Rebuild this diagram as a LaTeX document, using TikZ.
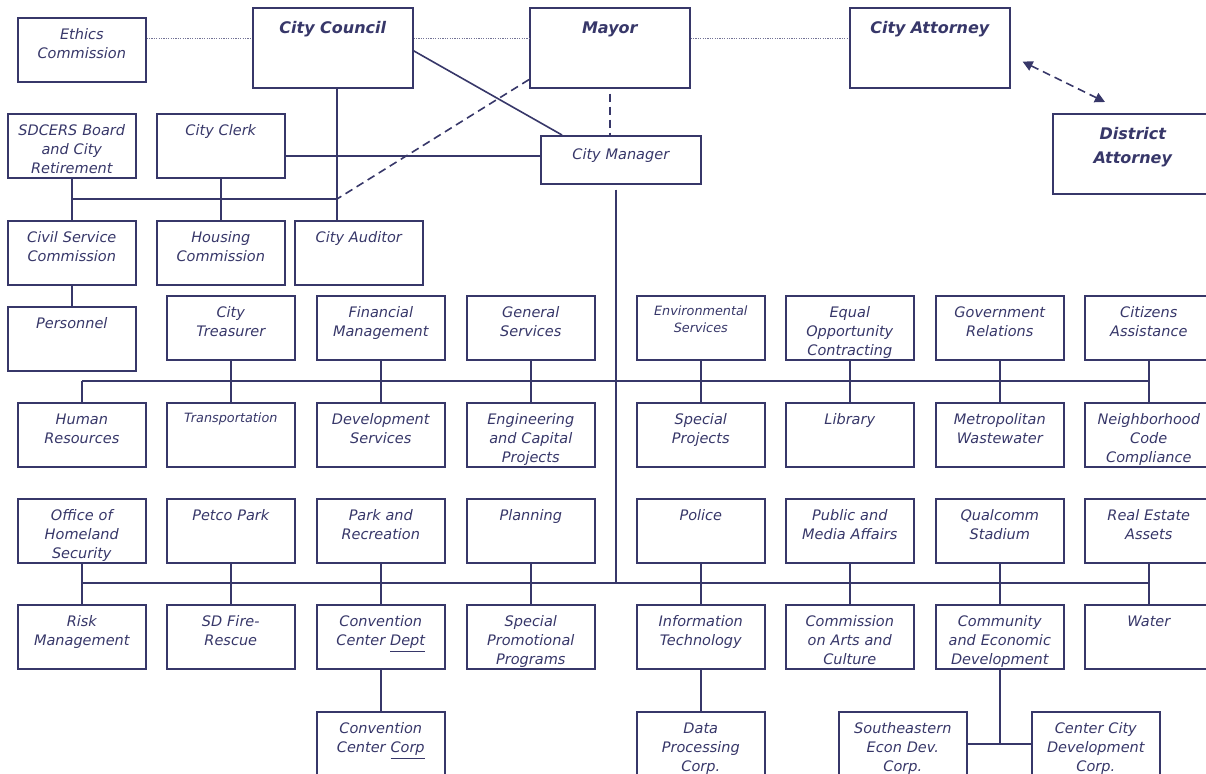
\documentclass[tikz,border=0pt]{standalone}
\usepackage{fontspec}
\setmainfont{DejaVu Sans}
\usetikzlibrary{arrows.meta}
\definecolor{ink}{RGB}{55,55,105}
\tikzset{
  unit/.style={draw=ink, line width=0.8pt, anchor=north west, inner sep=0pt,
    minimum width=64pt, text width=64pt, text height=11pt, text depth=21pt, align=center,
    text=ink, font=\fontsize{7.25}{9.5}\selectfont\itshape},
  fine/.style={font=\fontsize{6.4}{8.5}\selectfont\itshape, text height=10pt, text depth=22pt},
  head/.style={unit, minimum width=80pt, text width=80pt, text height=13pt, text depth=27pt,
    font=\fontsize{8}{12}\selectfont\bfseries\itshape},
  link/.style={draw=ink, line width=0.8pt},
  tie/.style={draw=ink!70, line width=0.5pt, dash pattern=on 0.6pt off 0.6pt},
  hint/.style={draw=ink, line width=0.8pt, dash pattern=on 4pt off 2.5pt},
}
\begin{document}
\begin{tikzpicture}[>={Triangle[length=5pt,width=5pt]},x=0.5pt,y=-0.5pt]
	\useasboundingbox (0,0) rectangle (1206,774);
	\clip (0,0) rectangle (1206,774);
	% elected offices
	\node[head] (council) at (252,7) {City Council};
	\node[head] (mayor) at (529,7) {Mayor};
	\node[head] (attorney) at (849,7) {City Attorney};
	\node[head] (district) at (1052,113) {District\\Attorney};
	\node[unit] (ethics) at (17,17) {Ethics\\Commission};
	\node[unit] (sdcers) at (7,113) {SDCERS Board\\and City\\Retirement};
	\node[unit] (clerk) at (156,113) {City Clerk};
	\node[unit, minimum width=80pt, text width=80pt, text height=12pt, text depth=12pt] (manager) at (540,135) {City Manager};
	\node[unit] (civil) at (7,220) {Civil Service\\Commission};
	\node[unit] (housing) at (156,220) {Housing\\Commission};
	\node[unit] (auditor) at (294,220) {City Auditor};
	\node[unit] (personnel) at (7,306) {Personnel};
	% first block of departments
	\node[unit] (treasurer) at (166,295) {City\\Treasurer};
	\node[unit] (finance) at (316,295) {Financial\\Management};
	\node[unit] (general) at (466,295) {General\\Services};
	\node[unit,fine] (environ) at (636,295) {Environmental\\Services};
	\node[unit] (equal) at (785,295) {Equal\\Opportunity\\Contracting};
	\node[unit] (govrel) at (935,295) {Government\\Relations};
	\node[unit] (citizens) at (1084,295) {Citizens\\Assistance};
	\node[unit] (hr) at (17,402) {Human\\Resources};
	\node[unit,fine] (transport) at (166,402) {Transportation};
	\node[unit] (devserv) at (316,402) {Development\\Services};
	\node[unit] (engineering) at (466,402) {Engineering\\and Capital\\Projects};
	\node[unit] (special) at (636,402) {Special\\Projects};
	\node[unit] (library) at (785,402) {Library};
	\node[unit] (wastewater) at (935,402) {Metropolitan\\Wastewater};
	\node[unit] (neighborhood) at (1084,402) {Neighborhood\\Code\\Compliance};
	% second block of departments
	\node[unit] (homeland) at (17,498) {Office of\\Homeland\\Security};
	\node[unit] (petco) at (166,498) {Petco Park};
	\node[unit] (parks) at (316,498) {Park and\\Recreation};
	\node[unit] (planning) at (466,498) {Planning};
	\node[unit] (police) at (636,498) {Police};
	\node[unit] (media) at (785,498) {Public and\\Media Affairs};
	\node[unit] (qualcomm) at (935,498) {Qualcomm\\Stadium};
	\node[unit] (realestate) at (1084,498) {Real Estate\\Assets};
	\node[unit] (risk) at (17,604) {Risk\\Management};
	\node[unit] (fire) at (166,604) {SD Fire-\\Rescue};
	\node[unit] (ccdept) at (316,604) {Convention\\Center \underline{Dept}};
	\node[unit] (promo) at (466,604) {Special\\Promotional\\Programs};
	\node[unit] (it) at (636,604) {Information\\Technology};
	\node[unit] (arts) at (785,604) {Commission\\on Arts and\\Culture};
	\node[unit] (ced) at (935,604) {Community\\and Economic\\Development};
	\node[unit] (water) at (1084,604) {Water};
	\node[unit] (cccorp) at (316,711) {Convention\\Center \underline{Corp}};
	\node[unit] (dataproc) at (636,711) {Data\\Processing\\Corp.};
	\node[unit] (secorp) at (838,711) {Southeastern\\Econ Dev.\\Corp.};
	\node[unit] (cccity) at (1031,711) {Center City\\Development\\Corp.};
	% helper levels
	\coordinate (tieline) at (0,39);
	\coordinate (spine) at (337,0);
	\coordinate (clerkline) at (0,156);
	\coordinate (clerkbus) at (0,199);
	\coordinate (busA) at (0,381);
	\coordinate (busB) at (0,583);
	% top connectors
	\draw[tie] (ethics.east |- tieline) -- (council.west |- tieline);
	\draw[tie] (council.east |- tieline) -- (mayor.west |- tieline);
	\draw[tie] (mayor.east |- tieline) -- (attorney.west |- tieline);
	\draw[link] ([yshift=-1.5pt]council.east) -- ([xshift=11pt]manager.north west);
	\draw[hint] ([yshift=-2.5pt]mayor.south) -- (mayor.south |- manager.north);
	\draw[hint] ([yshift=4.5pt]mayor.south west) -- (spine |- clerkbus);
	\draw[hint,<->] ([xshift=6pt,yshift=13.5pt]attorney.south east) -- ([xshift=26.5pt,yshift=5.5pt]district.north west);
	\draw[link] (spine |- council.south) -- (spine |- auditor.north);
	\draw[link] (clerk.east |- clerkline) -- (manager.west |- clerkline);
	\draw[link] (sdcers.south) -- (sdcers.south |- clerkbus) -- (spine |- clerkbus);
	\draw[link] (clerk.south) -- (housing.north);
	\draw[link] (civil.north) -- (civil.north |- clerkbus);
	\draw[link] (civil.south) -- (personnel.north);
	% manager to departments
	\draw[link] ([xshift=-2.5pt,yshift=-2.5pt]manager.south) -- ([xshift=-2.5pt]manager.south |- busB);
	\draw[link] (hr.north |- busA) -- (citizens.south |- busA);
	\draw[link] (hr.north) -- (hr.north |- busA);
	\draw[link] (treasurer.south) -- (transport.north) (finance.south) -- (devserv.north)
		(general.south) -- (engineering.north) (environ.south) -- (special.north)
		(equal.south) -- (library.north) (govrel.south) -- (wastewater.north)
		(citizens.south) -- (neighborhood.north);
	\draw[link] (homeland.south |- busB) -- (realestate.south |- busB);
	\draw[link] (homeland.south) -- (risk.north) (petco.south) -- (fire.north)
		(parks.south) -- (ccdept.north) (planning.south) -- (promo.north)
		(police.south) -- (it.north) (media.south) -- (arts.north)
		(qualcomm.south) -- (ced.north) (realestate.south) -- (water.north);
	% corporations
	\draw[link] (ccdept.south) -- (cccorp.north);
	\draw[link] (it.south) -- (dataproc.north);
	\draw[link] (ced.south) -- (ced.south |- secorp.east);
	\draw[link] (secorp.east) -- (cccity.west);
\end{tikzpicture}
\end{document}
